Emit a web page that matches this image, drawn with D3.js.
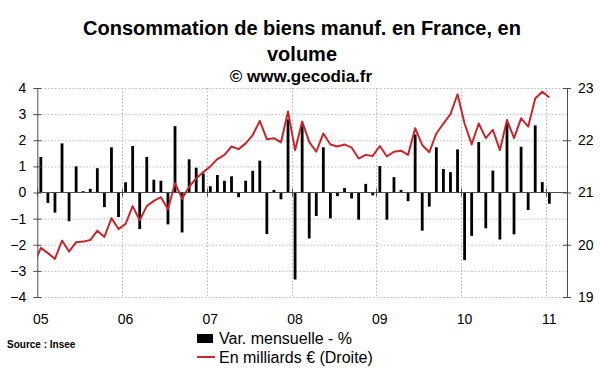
<!DOCTYPE html>
<meta charset="utf-8">
<script src="https://d3js.org/d3.v7.min.js"></script>
<style>
  body { margin: 0; background: #fff; }
  svg { font-family: "Liberation Sans", Arial, sans-serif; }
  .grid line { stroke: #b5b5b5; stroke-dasharray: 1.5,2; }
</style>
<div id="chart"></div>
<script>

// data
var yearLabels = ["05", "06", "07", "08", "09", "10", "11"];

// monthly change (%), Jan 2005 -> Jan 2011
var monthlyChange = [
  1.36, -0.40, -0.77, 1.88, -1.10, 1.00, 0.05, 0.14, 0.93, -0.56, 1.73, -0.94,
  0.39, 1.78, -1.40, 1.36, 0.49, 0.45, -1.22, 2.54, -1.53, 1.27, 0.95, 0.73,
  0.24, 0.67, 0.45, 0.62, -0.18, 0.45, 0.83, 1.22, -1.59, 0.10, -0.26, 2.80,
  -3.33, 2.60, -1.76, -0.90, 1.73, -0.99, -0.14, 0.17, -0.23, -1.04, 0.33, -0.11,
  1.01, -1.04, 0.59, 0.10, -0.33, 2.22, -1.46, -0.54, 1.73, 0.90, 0.78, 1.65,
  -2.59, -1.66, 1.93, -1.37, 0.84, -1.80, 2.65, -1.60, 1.75, -0.67, 2.57, 0.40,
  -0.43
];

// level in billions EUR, Dec 2004 -> Jan 2011 (right axis)
var levelBn = [
  19.63,
  19.94, 19.84, 19.73, 20.08, 19.87, 20.05, 20.06, 20.09, 20.27, 20.15, 20.51, 20.30,
  20.40, 20.74, 20.47, 20.74, 20.84, 20.91, 20.68, 21.18, 20.88, 21.11, 21.27, 21.39,
  21.50, 21.64, 21.72, 21.88, 21.83, 21.94, 22.10, 22.37, 22.02, 22.04, 21.96, 22.55,
  21.81, 22.36, 21.97, 21.78, 22.13, 21.92, 21.88, 21.92, 21.86, 21.65, 21.72, 21.70,
  21.89, 21.69, 21.78, 21.80, 21.72, 22.23, 21.91, 21.77, 22.13, 22.32, 22.50, 22.88,
  22.32, 21.92, 22.32, 22.04, 22.20, 21.81, 22.39, 22.04, 22.42, 22.26, 22.80, 22.93,
  22.82
];

var leftTicks = [-4, -3, -2, -1, 0, 1, 2, 3, 4];
var rightTicks = [19, 20, 21, 22, 23];

// layout
var W = 600, H = 372;
var plot = {left: 37.3, right: 567, top: 88, bottom: 297};

var svg = d3.select("#chart").append("svg")
  .attr("width", W).attr("height", H);

// scales: x is month index (0 = Jan 2005), 75 months shown
var x = d3.scaleLinear().domain([0, 75]).range([plot.left, plot.right]);
var yL = d3.scaleLinear().domain([-4, 4]).range([plot.bottom, plot.top]);
var yR = d3.scaleLinear().domain([19, 23]).range([plot.bottom, plot.top]);

// ---- titles
svg.append("text")
  .attr("x", 302).attr("y", 35)
  .attr("text-anchor", "middle")
  .style("font-weight", "bold").style("font-size", "20px")
  .text("Consommation de biens manuf. en France, en");
svg.append("text")
  .attr("x", 302).attr("y", 61)
  .attr("text-anchor", "middle")
  .style("font-weight", "bold").style("font-size", "20px")
  .text("volume");
svg.append("text")
  .attr("x", 301).attr("y", 82)
  .attr("text-anchor", "middle")
  .style("font-weight", "bold").style("font-size", "17px")
  .text("© www.gecodia.fr");

// ---- grid
var grid = svg.append("g").attr("class", "grid");
grid.selectAll(".h")
  .data(leftTicks.filter(function(d) { return d !== 0; }))
  .enter().append("line")
    .attr("x1", plot.left).attr("x2", plot.right)
    .attr("y1", function(d) { return yL(d) + 0.5; })
    .attr("y2", function(d) { return yL(d) + 0.5; });
grid.selectAll(".v")
  .data(yearLabels.slice(1))
  .enter().append("line")
    .attr("x1", function(d, i) { return Math.round(x((i + 1) * 12)) + 0.5; })
    .attr("x2", function(d, i) { return Math.round(x((i + 1) * 12)) + 0.5; })
    .attr("y1", plot.top).attr("y2", plot.bottom);

// ---- bars
svg.append("g")
  .selectAll("rect")
  .data(monthlyChange)
  .enter().append("rect")
    .attr("x", function(d, i) { return x(i + 0.5) - 1.4; })
    .attr("width", 2.8)
    .attr("y", function(d) { return yL(Math.max(0, d)); })
    .attr("height", function(d) { return Math.abs(yL(d) - yL(0)); })
    .attr("fill", "#000");

// ---- zero line with year ticks
var axisColor = "#4d4d4d";
svg.append("line")
  .attr("x1", plot.left).attr("x2", plot.right)
  .attr("y1", yL(0)).attr("y2", yL(0))
  .attr("stroke", axisColor);
svg.append("g")
  .selectAll("line")
  .data(yearLabels)
  .enter().append("line")
    .attr("x1", function(d, i) { return Math.round(x(i * 12)) + 0.5; })
    .attr("x2", function(d, i) { return Math.round(x(i * 12)) + 0.5; })
    .attr("y1", yL(0) - 4).attr("y2", yL(0) + 4)
    .attr("stroke", axisColor);

// ---- line (right axis), clipped to plot area
svg.append("clipPath").attr("id", "clip")
  .append("rect")
    .attr("x", plot.left).attr("y", plot.top - 10)
    .attr("width", plot.right - plot.left).attr("height", plot.bottom - plot.top + 20);

var line = d3.line()
  .x(function(d, i) { return x(i - 0.5); })
  .y(function(d) { return yR(d); });

svg.append("path")
  .datum(levelBn)
  .attr("clip-path", "url(#clip)")
  .attr("d", line)
  .attr("fill", "none")
  .attr("stroke", "#c4282e")
  .attr("stroke-width", 2)
  .attr("stroke-linejoin", "round");

// ---- y axes
function crossTicks(g) {
  g.select(".domain").attr("stroke", axisColor);
  g.selectAll(".tick line").attr("stroke", axisColor).attr("x1", -4).attr("x2", 4);
  g.selectAll(".tick text").style("font-size", "14px").attr("fill", "#000");
}

svg.append("g")
  .attr("transform", "translate(" + plot.left + ",0)")
  .call(d3.axisLeft(yL).tickValues(leftTicks).tickSize(4).tickSizeOuter(0).tickPadding(7)
    .tickFormat(d3.format("d")))
  .call(crossTicks);

svg.append("g")
  .attr("transform", "translate(" + plot.right + ",0)")
  .call(d3.axisRight(yR).tickValues(rightTicks).tickSize(4).tickSizeOuter(0).tickPadding(7)
    .tickFormat(d3.format("d")))
  .call(crossTicks);

// ---- x labels (centred on January of each year)
svg.append("g")
  .selectAll("text")
  .data(yearLabels)
  .enter().append("text")
    .attr("x", function(d, i) { return x(i * 12 + 0.5); })
    .attr("y", 324)
    .attr("text-anchor", "middle")
    .style("font-size", "14px")
    .text(function(d) { return d; });

// ---- legend
svg.append("rect")
  .attr("x", 197).attr("y", 334).attr("width", 16).attr("height", 9)
  .attr("fill", "#000");
svg.append("text")
  .attr("x", 219).attr("y", 344)
  .style("font-size", "16px")
  .text("Var. mensuelle - %");
svg.append("line")
  .attr("x1", 197).attr("x2", 215).attr("y1", 357).attr("y2", 357)
  .attr("stroke", "#c4282e").attr("stroke-width", 2);
svg.append("text")
  .attr("x", 219).attr("y", 363)
  .style("font-size", "16px")
  .text("En milliards € (Droite)");

// ---- source
svg.append("text")
  .attr("x", 7).attr("y", 348)
  .style("font-size", "10px").style("font-weight", "bold")
  .text("Source : Insee");

</script>
